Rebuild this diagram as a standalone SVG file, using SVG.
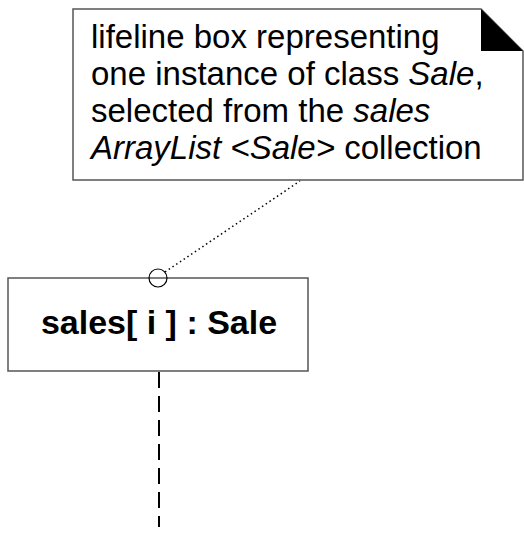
<svg xmlns="http://www.w3.org/2000/svg" width="524" height="538" viewBox="0 0 524 538">
<style>
.box{fill:#fff;stroke:#555;stroke-width:1.5}
.t{font-family:"Liberation Sans",Arial,sans-serif;font-size:33px;fill:#000}
.i{font-style:italic}
.b{font-weight:bold;font-size:34px}
</style>
<rect width="524" height="538" fill="#fff"/>
<g id="note">
<path class="box" d="M73,9 H481 L523,51 V180 H73 Z"/>
<path d="M481,9 L523,51 H481 Z" fill="#000"/>
<text class="t" x="91" y="48">lifeline box representing</text>
<text class="t" x="91" y="85">one instance of class <tspan class="i">Sale</tspan>,</text>
<text class="t" x="91" y="122">selected from the <tspan class="i">sales</tspan></text>
<text class="t" x="91" y="159"><tspan class="i">ArrayList &lt;Sale&gt;</tspan> collection</text>
</g>
<g id="lifeline">
<rect class="box" x="8" y="278" width="300" height="93"/>
<text class="t b" x="159" y="334" text-anchor="middle">sales[ i ] : Sale</text>
</g>
<g id="connectors">
<line x1="165" y1="272" x2="300" y2="181" stroke="#000" stroke-width="1.5" stroke-dasharray="1.5,3"/>
<circle cx="158" cy="278" r="9" fill="none" stroke="#000" stroke-width="1.2"/>
<line x1="159" y1="372" x2="159" y2="527" stroke="#000" stroke-width="2" stroke-dasharray="16,8"/>
</g>
</svg>
